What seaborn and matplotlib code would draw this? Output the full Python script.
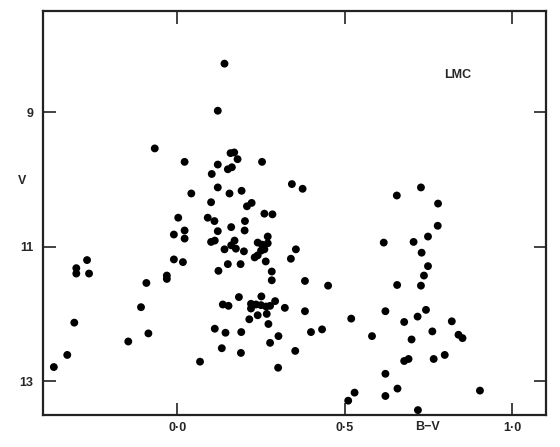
import matplotlib
matplotlib.use("Agg")
import matplotlib.pyplot as plt
import seaborn as sns
import pandas as pd

# B-V colour and V magnitude
b_v = [
    0.141, 0.121, -0.067, 0.022, 0.121, 0.159, 0.170, 0.180, 0.151, 0.163,
    0.103, 0.253, 0.042, 0.121, 0.156, 0.192, 0.101, 0.208, 0.222, 0.260,
    0.284, 0.003, 0.091, 0.111, 0.202, 0.342, 0.374, 0.655, 0.727, 0.778,
    0.777, -0.010, 0.022, 0.022, 0.121, 0.161, 0.201, 0.101, 0.112, 0.141,
    0.171, 0.161, 0.175, 0.199, 0.270, 0.240, 0.253, 0.270, 0.260, 0.250,
    0.240, 0.231, -0.010, 0.017, 0.151, 0.189, 0.264, 0.123, 0.282, 0.282,
    0.339, 0.354, -0.269, -0.301, -0.301, -0.263, -0.092, -0.031, -0.031, -0.108,
    -0.307, -0.086, -0.146, -0.328, -0.368, 0.068, 0.184, 0.136, 0.153, 0.251,
    0.220, 0.235, 0.250, 0.265, 0.277, 0.220, 0.292, 0.215, 0.240, 0.267,
    0.272, 0.112, 0.144, 0.191, 0.277, 0.302, 0.133, 0.190, 0.301, 0.381,
    0.450, 0.321, 0.381, 0.399, 0.432, 0.352, 0.616, 0.705, 0.748, 0.729,
    0.748, 0.736, 0.727, 0.656, 0.519, 0.621, 0.742, 0.717, 0.677, 0.819,
    0.581, 0.761, 0.699, 0.839, 0.851, 0.677, 0.690, 0.765, 0.798, 0.621,
    0.657, 0.621, 0.529, 0.510, 0.903, 0.718,
]
v_mag = [
    8.28, 8.98, 9.54, 9.74, 9.78, 9.61, 9.60, 9.70, 9.85, 9.82,
    9.92, 9.74, 10.21, 10.12, 10.21, 10.17, 10.34, 10.40, 10.35, 10.51,
    10.52, 10.57, 10.57, 10.62, 10.62, 10.07, 10.14, 10.24, 10.12, 10.36,
    10.69, 10.82, 10.76, 10.88, 10.77, 10.71, 10.76, 10.93, 10.91, 11.04,
    10.91, 10.98, 11.03, 11.07, 10.85, 10.94, 10.97, 10.95, 11.04, 11.06,
    11.13, 11.16, 11.19, 11.23, 11.26, 11.26, 11.22, 11.36, 11.37, 11.50,
    11.18, 11.04, 11.20, 11.32, 11.40, 11.40, 11.54, 11.43, 11.48, 11.90,
    12.13, 12.29, 12.41, 12.61, 12.79, 12.71, 11.75, 11.86, 11.88, 11.74,
    11.85, 11.86, 11.87, 11.89, 11.88, 11.92, 11.81, 12.08, 12.02, 12.00,
    12.15, 12.22, 12.28, 12.27, 12.43, 12.33, 12.51, 12.58, 12.80, 11.51,
    11.58, 11.91, 11.96, 12.27, 12.23, 12.55, 10.94, 10.93, 10.85, 11.09,
    11.29, 11.43, 11.58, 11.57, 12.07, 11.96, 11.94, 12.04, 12.12, 12.11,
    12.33, 12.26, 12.38, 12.31, 12.36, 12.70, 12.67, 12.67, 12.61, 12.89,
    13.11, 13.22, 13.17, 13.29, 13.14, 13.43,
]

x_ticks = [0.0, 0.5, 1.0]
x_tick_labels = ["0·0", "0·5", "1·0"]
y_ticks = [9, 11, 13]
y_tick_labels = ["9", "11", "13"]

df = pd.DataFrame({"B-V": b_v, "V": v_mag})

sns.set_theme(style="ticks")
plt.rcParams["font.family"] = ["Liberation Sans", "DejaVu Sans"]

fig = plt.figure(figsize=(5.6, 4.47), dpi=100)
ax = fig.add_axes([0.077, 0.072, 0.898, 0.903])

sns.scatterplot(data=df, x="B-V", y="V", ax=ax, color="black",
                edgecolor="none", s=32, legend=False)

ax.set_xlim(-0.4, 1.1)
ax.set_ylim(13.5, 7.5)
ax.set_xlabel("")
ax.set_ylabel("")

ax.set_xticks(x_ticks)
ax.set_xticklabels(x_tick_labels, fontsize=9, fontweight="bold")
ax.set_yticks(y_ticks)
ax.set_yticklabels(y_tick_labels, fontsize=9, fontweight="bold")
ax.tick_params(direction="in", length=9, width=1.2, top=True, right=True,
               color="#222222", pad=5)
ax.tick_params(axis="y", pad=7)

for side in ax.spines.values():
    side.set_linewidth(1.6)
    side.set_color("#222222")

ax.text(0.836, 8.45, "LMC", fontsize=9, fontweight="bold",
        ha="center", va="center")
fig.text(0.7625, 0.0447, "B−V", fontsize=9, fontweight="bold",
         ha="center", va="center")
fig.text(0.04, 1 - 181 / 447, "V", fontsize=9, fontweight="bold",
         ha="center", va="center")

fig.savefig("out.png", dpi=100, facecolor="white")
